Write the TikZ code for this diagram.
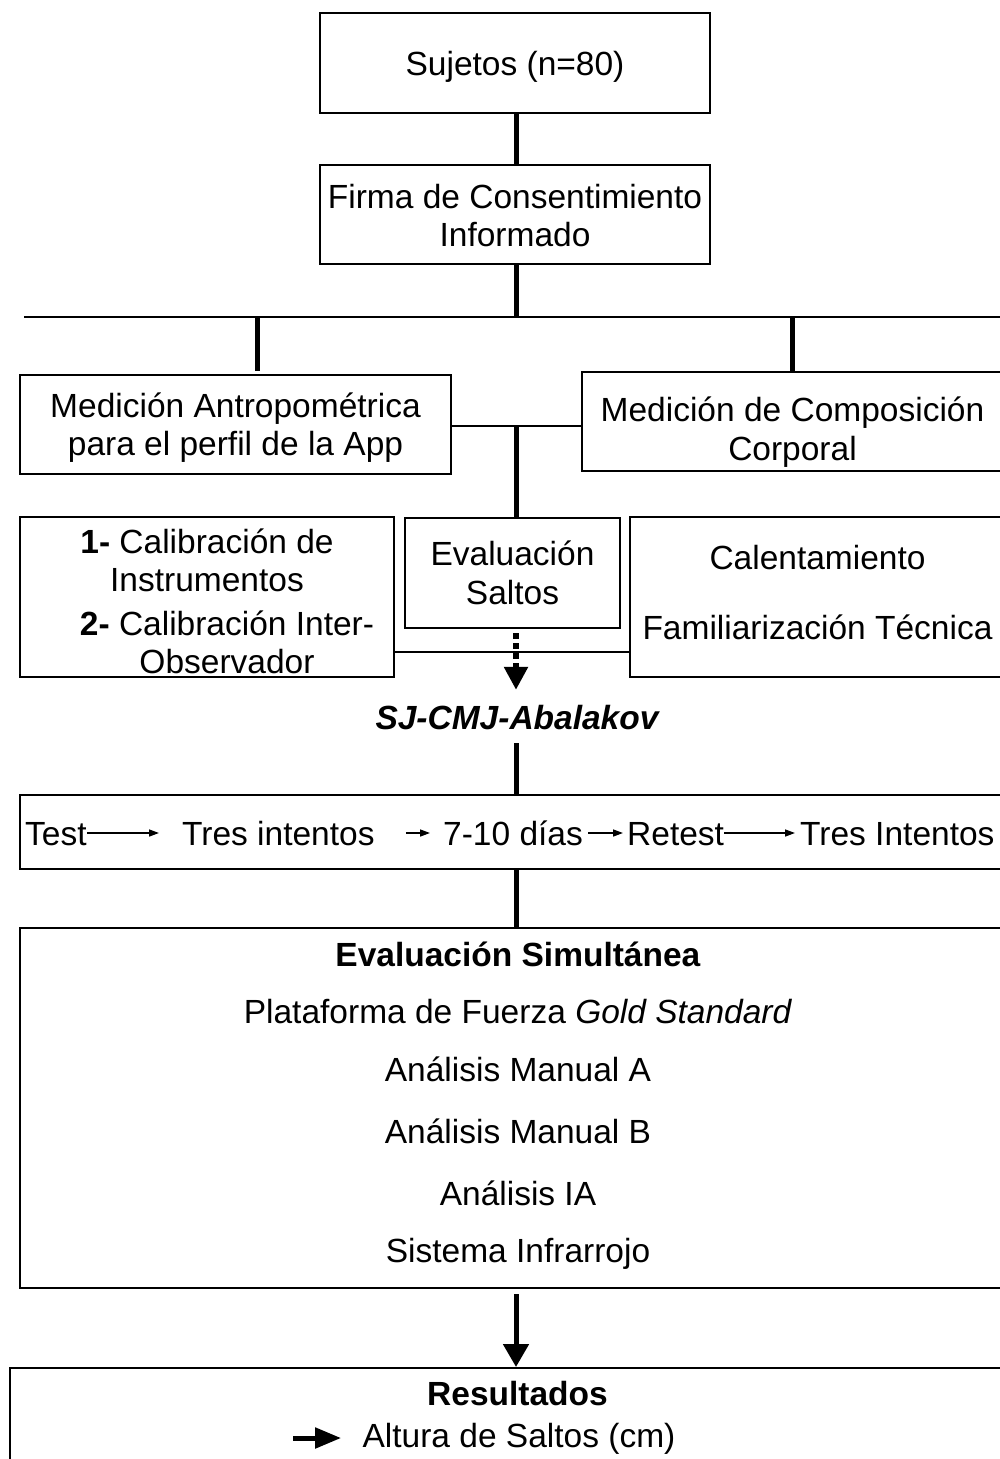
\documentclass[tikz,border=0pt]{standalone}
\usepackage{fontspec}
\setmainfont{Liberation Sans}
\usetikzlibrary{arrows.meta}
\newcommand{\topstr}[1]{\rule{0pt}{#1pt}}
\newcommand{\botstr}[1]{\rule[-#1pt]{0pt}{0pt}}
\begin{document}
\begin{tikzpicture}[x=1pt,y=-1pt,
  font=\fontsize{33.5}{38.5}\selectfont,
  box/.style={draw, line width=2pt, align=center, inner sep=0pt},
  lbl/.style={inner sep=0pt, text height=24pt, text depth=0pt},
  trunk/.style={line width=5pt},
  link/.style={line width=2pt},
  smallarr/.style={line width=1.5pt, -{Triangle[length=10pt,width=7pt]}},
  bigarr/.style={line width=5pt, -{Triangle[length=23pt,width=25pt]}},
  dasharr/.style={line width=5.5pt, dash pattern=on 6pt off 4pt, -{Triangle[length=23pt,width=23pt]}},
]
\useasboundingbox (0,0) rectangle (1000,1459);

% boxes
\node[box, minimum width=390pt, minimum height=100pt] (suj) at (515,63)
  {\topstr{32}Sujetos (n=80)\botstr{8}};
\node[box, minimum width=390pt, minimum height=99pt] (firma) at (515,214.5)
  {\topstr{33.5}Firma de Consentimiento\\Informado\botstr{8}};
\node[box, minimum width=431pt, minimum height=99pt] (antrop) at (235.5,424.5)
  {\topstr{32}Medición Antropométrica\\para el perfil de la App\botstr{8}};
\node[box, minimum width=421pt, minimum height=99pt] (comp) at (792.5,421.5)
  {\topstr{47}Medición de Composición\\Corporal\botstr{8}};
\node[box, minimum width=374pt, minimum height=160pt] (calib) at (207,597)
  {\topstr{33}\textbf{1-} Calibración de\\Instrumentos\\[5pt]\hbox{\hspace{40pt}\textbf{2-} Calibración Inter-}\\\hbox{\hspace{40pt}Observador}};
\node[box, minimum width=215pt, minimum height=110pt] (eval) at (512.5,573)
  {\topstr{32}Evaluación\\Saltos\botstr{8}};
\node[box, minimum width=375pt, minimum height=160pt] (calent) at (817.5,597)
  {\topstr{32}Calentamiento\\[31.5pt]Familiarización Técnica\botstr{17}};
\node[lbl, font=\fontsize{33.5}{38.5}\selectfont\bfseries\itshape, anchor=base] (sj) at (517,729)
  {SJ-CMJ-Abalakov};
\node[box, minimum width=990pt, minimum height=74pt] (testbox) at (515,832) {};
\node[lbl, anchor=base west] (t1) at (25,845) {Test};
\node[lbl, anchor=base west] (t2) at (182,845) {Tres intentos};
\node[lbl, anchor=base west] (t3) at (443,845) {7-10 días};
\node[lbl, anchor=base west] (t4) at (627,845) {Retest};
\node[lbl, anchor=base west] (t5) at (800,845) {Tres Intentos};
\node[box, minimum width=996pt, minimum height=360pt] (sim) at (518,1108)
  {\topstr{32}\textbf{Evaluación Simultánea}\\[18.5pt]Plataforma de Fuerza \textit{Gold Standard}\\[19.5pt]Análisis Manual A\\[23.5pt]Análisis Manual B\\[23.5pt]Análisis IA\\[19pt]Sistema Infrarrojo\botstr{19.5}};
\node[box, minimum width=1015pt, inner ysep=5pt, anchor=north] (res) at (517.5,1367)
  {\topstr{32}\textbf{Resultados}\\[3.5pt]\hbox{\tikz[baseline=-9pt]\draw[line width=5pt,-{Triangle[length=26pt,width=20pt]}] (0pt,0pt) -- (48pt,0pt);\hspace{19pt}Altura de Saltos (cm)\hspace{69pt}}\botstr{30}};

% connectors
\coordinate (tk) at (516,0);
\coordinate (jn) at (516,317);
\coordinate (hl) at (24,317);
\coordinate (hr) at (1010,317);
\coordinate (bl) at (257,318);
\coordinate (br) at (792,318);
\coordinate (jm) at (516,426);
\coordinate (jc) at (516,652);

\draw[trunk] (suj.south -| tk) -- (firma.north -| tk);
\draw[trunk] (firma.south -| tk) -- (jn);
\draw[link] (hl) -- (hr);
\draw[trunk, shorten >=3pt] (bl) -- (antrop.north -| bl);
\draw[trunk] (br) -- (comp.north -| br);
\draw[link] (antrop.east |- jm) -- (comp.west |- jm);
\draw[trunk] (jm) -- (eval.north -| tk);
\draw[link] (calib.east |- jc) -- (calent.west |- jc);
\draw[dasharr, shorten <=4pt, shorten >=15pt] (eval.south -| tk) -- (sj.north -| tk);
\draw[trunk, shorten <=14pt] (sj.south -| tk) -- (testbox.north -| tk);
\draw[smallarr, shorten >=23pt] (t1) -- (t2);
\draw[smallarr, shorten <=31pt, shorten >=13pt] (t2) -- (t3);
\draw[smallarr, shorten <=5pt, shorten >=4pt] (t3) -- (t4);
\draw[smallarr, shorten >=5pt] (t4) -- (t5);
\draw[trunk] (testbox.south -| tk) -- (sim.north -| tk);
\draw[bigarr, shorten <=5pt] (sim.south -| tk) -- (res.north -| tk);
\end{tikzpicture}
\end{document}
